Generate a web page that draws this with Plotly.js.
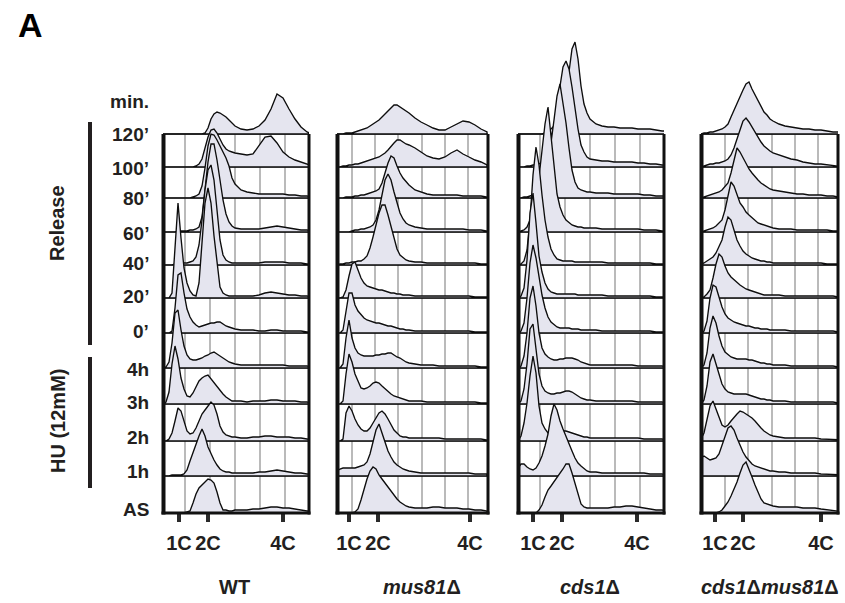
<!DOCTYPE html>
<html><head><meta charset="utf-8">
<script src="https://cdn.plot.ly/plotly-3.0.1.min.js"></script>
<style>html,body{margin:0;padding:0;background:#fff}#chart{width:845px;height:603px}</style>
</head><body><div id="chart"></div>
<script>
// DNA-content channel grid (offset from left edge of each panel)
const X = [0,3,6,9,12,15,18,21,24,27,30,33,36,39,42,45,48,51,54,57,60,63,66,69,72,78,84,90,96,102,108,114,120,126,132,138,144,150];
const rowLabels = ["AS","1h","2h","3h","4h","0\u2019","20\u2019","40\u2019","60\u2019","80\u2019","100\u2019","120\u2019"];
const panelTitles = ["WT","<i>mus81</i>\u0394","<i>cds1</i>\u0394","<i>cds1</i>\u0394<i>mus81</i>\u0394"];
const tickText = ["1C","2C","4C"];

// histogram heights, rows in rowLabels order
const wtRows = [
 [0,0,0,0,0,0,0,0,1,2,10,19,25,28,31,34,33,30,21,10,3,3,2,2,3,3,3,4,4,5,6,6,5,5,4,3,2,2],
 [0,0,0,1,1,1,1,2,6,15,24,32,40,47,40,29,22,16,11,7,5,4,4,3,3,3,3,3,4,4,5,6,5,4,3,3,2,2],
 [0,0,2,8,20,33,30,19,10,7,8,13,21,27,31,35,39,36,27,15,9,6,5,4,4,3,3,4,4,5,5,4,4,4,3,3,2,1],
 [0,2,12,40,58,45,26,15,8,7,11,17,23,26,28,29,25,21,17,14,10,7,5,3,3,3,2,3,3,3,4,4,3,3,3,2,2,1],
 [0,1,6,25,55,58,38,22,13,9,8,8,9,10,12,13,15,16,14,12,10,8,6,5,4,3,3,3,3,3,3,3,3,2,2,2,2,1],
 [0,0,0,2,25,58,60,40,24,16,11,8,6,7,8,9,10,10,11,11,9,7,6,5,4,3,3,3,2,2,3,3,2,2,2,2,1,1],
 [0,0,0,5,50,95,60,30,15,7,3,2,15,60,95,110,95,62,35,11,5,3,2,2,2,2,2,2,3,5,6,5,4,3,3,2,2,1],
 [0,0,0,0,1,2,2,2,2,3,4,8,20,45,75,95,100,85,55,25,10,5,3,2,2,2,2,2,2,3,3,3,3,2,2,2,1,1],
 [0,0,0,0,0,1,1,1,1,2,2,3,5,15,40,70,88,88,72,50,32,18,10,6,4,3,3,3,3,4,5,6,5,4,3,2,2,1],
 [0,0,0,0,0,0,0,0,0,0,1,2,4,12,30,52,64,63,58,52,46,40,32,20,14,8,6,5,4,4,4,4,4,3,3,2,2,1],
 [0,0,0,0,0,0,0,0,0,0,0,1,3,8,18,30,37,38,34,28,22,18,16,15,14,13,12,13,22,30,31,24,15,10,7,5,3,1],
 [0,0,0,0,0,0,0,0,0,0,0,0,0,0,1,6,15,20,22,21,19,17,14,11,8,5,4,5,8,14,25,40,36,25,15,7,2,0]
];
const mus81Rows = [
 [0,0,0,0,0,0,1,4,13,24,34,42,46,44,38,34,30,25,21,17,14,11,9,7,6,5,5,5,6,6,5,5,5,4,4,3,3,2],
 [5,7,8,8,8,8,8,9,10,11,14,22,34,46,52,43,34,25,19,14,11,9,7,6,5,4,3,3,3,3,3,3,3,3,3,2,2,2],
 [0,0,2,28,35,30,22,16,12,10,10,13,18,23,28,30,27,22,16,11,8,5,4,4,3,3,3,3,3,3,2,2,2,2,2,2,2,1],
 [0,0,3,30,50,42,30,22,16,15,16,18,21,22,21,18,15,12,10,8,7,6,5,4,3,3,3,2,2,2,2,2,2,2,2,2,1,1],
 [0,0,4,30,48,30,20,15,13,12,12,12,12,13,13,14,14,15,15,13,11,10,8,6,5,4,3,3,3,2,2,2,2,2,2,2,1,1],
 [0,0,3,20,40,40,28,22,18,15,13,12,11,10,10,9,8,7,7,6,5,4,4,3,3,2,2,2,2,2,2,2,2,2,2,1,1,1],
 [0,0,1,8,22,34,36,28,20,15,12,11,10,9,8,8,7,6,5,5,4,4,3,3,3,2,2,2,2,2,2,2,2,2,2,1,1,1],
 [0,1,1,2,2,3,3,4,4,6,9,17,28,40,52,60,60,50,38,25,16,10,7,5,4,3,3,2,2,2,2,2,2,2,2,2,1,1],
 [0,0,0,0,0,1,2,2,3,3,4,5,7,12,22,38,52,58,52,40,28,19,13,9,7,5,4,3,3,3,3,3,3,3,2,2,2,1],
 [0,0,0,1,1,1,2,2,3,3,4,5,6,7,9,15,25,35,42,40,32,25,20,16,13,8,6,4,3,3,3,3,3,2,2,2,2,1],
 [0,0,1,1,2,2,3,3,4,5,6,7,8,9,10,12,14,17,21,24,27,27,25,23,22,19,15,11,9,8,10,14,17,13,10,7,5,2],
 [0,0,0,1,1,1,2,3,4,5,6,8,10,12,14,17,20,24,27,29,29,27,25,23,21,16,12,9,6,4,4,7,10,13,12,9,5,2]
];
const cds1Rows = [
 [0,0,0,0,0,0,0,3,8,16,23,27,31,36,40,44,49,49,40,30,18,9,6,5,5,5,5,5,6,6,7,7,6,5,4,3,3,2],
 [8,12,12,9,7,6,8,13,20,30,42,60,72,66,55,47,39,32,25,18,13,10,7,5,4,4,3,3,3,3,3,3,3,3,2,2,2,1],
 [0,5,18,38,65,85,68,35,18,12,8,7,8,9,10,10,10,9,8,7,6,5,4,4,3,3,3,3,3,3,3,3,3,2,2,2,2,1],
 [0,3,15,40,75,80,55,30,18,13,11,10,10,11,11,12,13,13,12,10,8,6,5,4,4,3,3,3,3,3,3,3,2,2,2,2,2,1],
 [0,2,12,35,70,82,62,35,20,14,11,9,8,8,9,9,10,10,10,9,8,6,5,4,3,3,3,3,3,3,3,3,2,2,2,2,2,1],
 [0,2,10,35,70,88,75,55,38,25,16,11,8,6,5,5,5,5,4,4,4,3,3,3,3,3,2,2,2,2,2,2,2,2,2,1,1,1],
 [0,2,10,38,85,105,75,42,26,15,9,6,5,4,4,4,4,4,4,4,3,3,3,3,3,3,3,2,2,2,2,2,2,2,2,1,1,1],
 [0,1,4,15,45,90,118,100,70,45,28,16,10,6,5,4,4,4,4,3,3,3,3,3,3,3,3,2,2,2,2,2,2,2,2,1,1,1],
 [0,1,2,5,12,22,35,55,80,108,125,95,62,38,25,17,12,9,7,6,5,5,4,4,4,4,3,3,3,3,3,3,3,2,2,2,1,1],
 [0,0,1,1,2,3,4,6,14,25,40,55,78,102,114,95,75,50,28,16,10,8,7,6,6,5,5,5,4,4,4,4,4,3,3,2,2,2],
 [0,0,0,1,1,2,2,3,5,10,18,28,42,60,80,100,106,98,80,56,38,22,15,10,8,7,6,6,5,5,5,5,4,4,3,3,2,2],
 [0,0,0,0,0,0,0,0,0,1,3,5,8,11,15,22,40,62,85,92,75,48,30,21,15,10,8,7,7,6,6,6,5,5,5,4,3,3]
];
const dblRows = [
 [0,0,0,0,0,0,1,3,7,11,17,24,31,40,48,51,44,36,28,21,14,10,9,8,7,6,6,6,6,5,5,5,4,3,2,1,1,1],
 [18,20,18,16,17,18,22,30,40,48,50,46,38,30,24,19,15,12,10,9,8,7,6,5,5,4,4,3,3,3,3,3,2,2,2,2,1,1],
 [2,8,20,35,40,32,22,16,14,16,20,24,27,30,29,27,25,23,20,16,13,10,8,6,5,4,3,3,3,3,3,3,2,2,2,2,1,1],
 [0,4,18,42,50,40,28,20,15,12,11,10,10,10,10,10,9,8,7,6,5,5,4,4,3,3,3,2,2,2,2,2,2,2,2,1,1,1],
 [0,3,15,40,52,45,32,22,16,13,11,10,9,9,9,9,8,8,7,6,5,5,4,4,3,3,3,2,2,2,2,2,2,2,2,1,1,1],
 [0,2,12,35,48,46,36,26,19,15,13,11,10,9,8,7,7,6,5,5,4,4,4,3,3,3,3,2,2,2,2,2,2,2,2,1,1,1],
 [0,1,4,8,20,34,44,41,32,25,21,18,15,13,11,9,8,7,6,5,4,3,3,3,3,3,2,2,2,2,2,2,2,2,2,1,1,1],
 [1,2,4,6,8,12,18,25,38,48,45,36,25,19,14,11,9,7,6,5,4,4,3,3,2,2,2,2,2,2,2,2,2,1,1,1,1,1],
 [0,1,2,3,4,6,9,12,22,38,50,46,37,29,25,20,17,14,11,9,8,7,6,5,4,3,3,3,2,2,2,2,2,2,1,1,1,1],
 [0,1,2,3,4,5,6,8,11,15,25,38,50,46,40,34,29,25,21,18,15,13,11,9,8,7,6,5,4,4,3,3,3,2,2,1,1,1],
 [0,1,2,3,3,4,4,5,6,8,12,19,27,37,46,49,45,40,34,29,25,21,18,16,14,12,10,8,7,5,4,3,3,2,1,0,0,0],
 [0,1,1,2,2,3,4,5,7,10,17,24,31,38,44,50,52,45,39,33,27,22,19,15,13,10,8,7,6,5,5,4,4,3,2,2,1,1]
];

// ---------- layout geometry ----------
const FW = 845, FH = 603, BOTTOM = 513;
const FONT = "Liberation Sans, Arial, Helvetica, sans-serif";
const TXT = "#231f20";
const basePx = [513,476,441,404,368,333,298,265,232,198,167,134];
const labelPx = [509,471,437,402,369,331,296,263,233,198,168,134];
const frames = [
  {left:163, width:146, ticks:[16,45,120], grid:[22,47,72,97,122], titleX:234},
  {left:337, width:151, ticks:[12,41,133], grid:[15,38,61,85,108,131], titleX:422},
  {left:518, width:146, ticks:[15,44,119], grid:[22,47,72,97,122], titleX:590},
  {left:701, width:137, ticks:[14,42,120], grid:[24,47,71,94,117], titleX:770}
];
const toY = py => BOTTOM - py;
const px = v => v / FW;
const py = v => 1 - v / FH;

const allRows = [wtRows, mus81Rows, cds1Rows, dblRows];
const traces = [];
allRows.forEach((rows, p) => {
  const xa = p === 0 ? "x" : "x" + (p + 1);
  for (let r = rows.length - 1; r >= 0; r--) {
    const b = toY(basePx[r]);
    const xs = [X[0]].concat(X, [X[X.length - 1], X[0]]);
    const ys = [b].concat(rows[r].map(h => b + h), [b, b]);
    traces.push({type:"scatter", mode:"lines", x:xs, y:ys, xaxis:xa, yaxis:"y",
      fill:"toself", fillcolor:"#e5e5ef", line:{color:"#0d0d0d", width:1.35},
      hoverinfo:"skip", showlegend:false});
  }
});

const shapes = [];
const annotations = [];
frames.forEach((f, p) => {
  const xr = p === 0 ? "x" : "x" + (p + 1);
  f.grid.forEach(g => shapes.push({type:"line", xref:xr, yref:"y", x0:g, x1:g, y0:0, y1:toY(134),
    line:{color:"#8c8c8c", width:1.2}, layer:"below"}));
  basePx.slice(1).forEach(b => shapes.push({type:"line", xref:xr, yref:"y", x0:0, x1:f.width, y0:toY(b), y1:toY(b),
    line:{color:"#444", width: b === 134 ? 1.6 : 1}, layer:"below"}));
  shapes.push({type:"line", xref:"paper", yref:"paper", x0:px(f.left+0.5), x1:px(f.left+0.5), y0:py(134), y1:py(514.5),
    line:{color:"#111", width:4}, layer:"above"});
  shapes.push({type:"line", xref:"paper", yref:"paper", x0:px(f.left+f.width), x1:px(f.left+f.width), y0:py(134), y1:py(514.5),
    line:{color:"#111", width:3}, layer:"above"});
  shapes.push({type:"line", xref:"paper", yref:"paper", x0:px(f.left-1.5), x1:px(f.left+f.width+1.5), y0:py(513), y1:py(513),
    line:{color:"#111", width:3}, layer:"above"});
  annotations.push({text:panelTitles[p], x:px(f.titleX), y:py(587), xref:"paper", yref:"paper",
    xanchor:"center", yanchor:"middle", showarrow:false, font:{family:FONT, size:20, color:TXT, weight:"bold"}});
});

shapes.push({type:"line", xref:"paper", yref:"paper", x0:px(90), x1:px(90), y0:py(122), y1:py(345), line:{color:TXT, width:4}});
shapes.push({type:"line", xref:"paper", yref:"paper", x0:px(90), x1:px(90), y0:py(357), y1:py(488), line:{color:TXT, width:4}});

rowLabels.forEach((t, i) => annotations.push({text:t, x:px(151), y:py(labelPx[i]), xref:"paper", yref:"paper",
  xanchor:"right", yanchor:"middle", showarrow:false, font:{family:FONT, size:19, color:TXT, weight:"bold"}}));
annotations.push({text:"min.", x:px(151), y:py(101), xref:"paper", yref:"paper", xanchor:"right", yanchor:"middle",
  showarrow:false, font:{family:FONT, size:19, color:TXT, weight:"bold"}});
annotations.push({text:"Release", x:px(57), y:py(223), xref:"paper", yref:"paper", textangle:-90, xanchor:"center", yanchor:"middle",
  showarrow:false, font:{family:FONT, size:20, color:TXT, weight:"bold"}});
annotations.push({text:"HU (12mM)", x:px(58), y:py(421), xref:"paper", yref:"paper", textangle:-90, xanchor:"center", yanchor:"middle",
  showarrow:false, font:{family:FONT, size:20, color:TXT, weight:"bold"}});
annotations.push({text:"A", x:px(30), y:py(25), xref:"paper", yref:"paper", xanchor:"center", yanchor:"middle",
  showarrow:false, font:{family:FONT, size:34, color:"#000", weight:"bold"}});

const layout = {
  width:FW, height:FH, margin:{l:0, r:0, t:0, b:0}, paper_bgcolor:"#fff", plot_bgcolor:"rgba(0,0,0,0)",
  showlegend:false,
  yaxis:{domain:[(FH-BOTTOM)/FH, 1], range:[0, BOTTOM], visible:false, fixedrange:true},
  shapes:shapes, annotations:annotations
};
frames.forEach((f, p) => {
  const key = p === 0 ? "xaxis" : "xaxis" + (p + 1);
  layout[key] = {domain:[px(f.left), px(f.left + f.width)], range:[0, f.width], anchor:"y",
    showgrid:false, zeroline:false, showline:false, fixedrange:true,
    tickmode:"array", tickvals:f.ticks, ticktext:tickText, ticks:"outside", ticklen:8, tickwidth:4, tickcolor:"#2a2a2a",
    tickfont:{family:FONT, size:20, color:TXT, weight:"bold"}, ticklabelstandoff:4};
});

Plotly.newPlot("chart", traces, layout, {staticPlot:true, displayModeBar:false});
</script></body></html>
